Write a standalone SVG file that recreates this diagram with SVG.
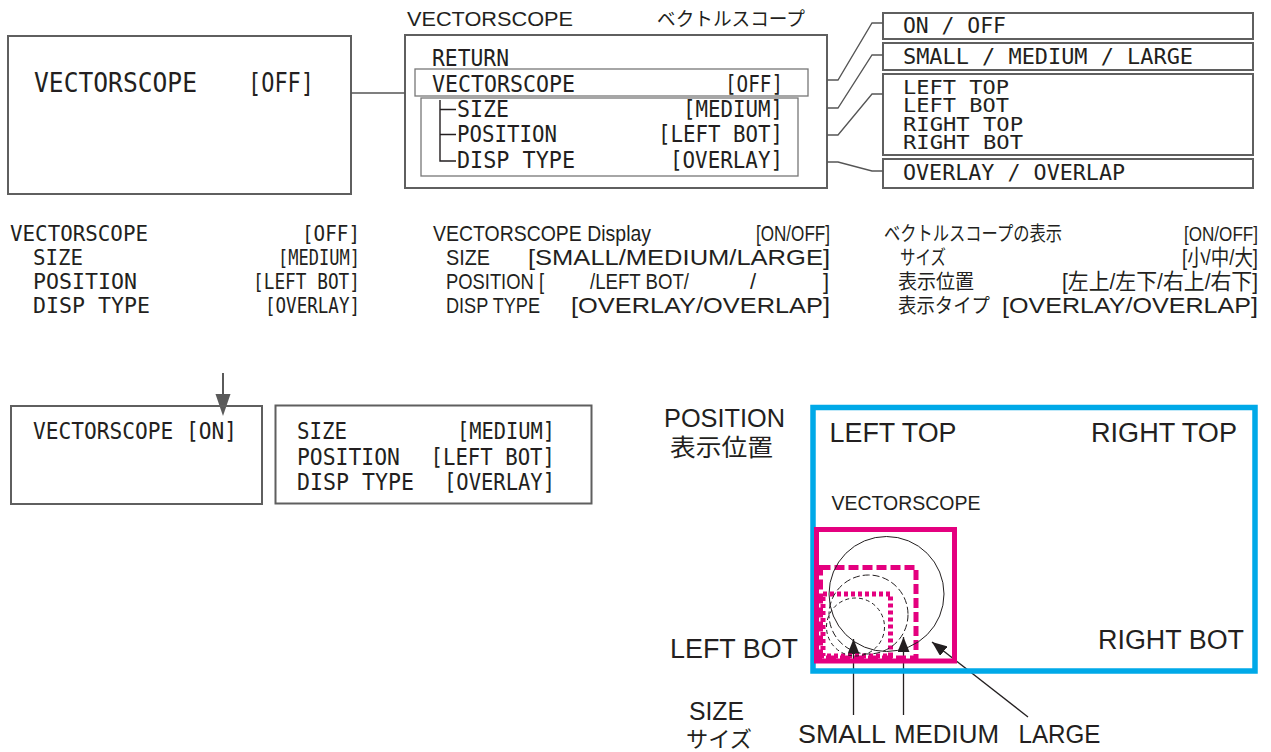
<svg xmlns="http://www.w3.org/2000/svg" width="1271" height="752" viewBox="0 0 1271 752">
<style>
.box{fill:none;stroke:#5f5f5f;stroke-width:2}
.thin{fill:none;stroke:#777;stroke-width:1.3}
.conn{fill:none;stroke:#555;stroke-width:1.3}
.mono{font-family:"DejaVu Sans Mono","Liberation Mono",monospace;fill:#231f20}
.sans{font-family:"Liberation Sans","Noto Sans CJK JP",sans-serif;fill:#231f20}
.jp{font-family:"Noto Sans CJK JP","Liberation Sans",sans-serif;fill:#231f20}
.m26{font-size:26px}.m23{font-size:23px}.m21{font-size:21px}.m20{font-size:19px}.m24{font-size:23px}.m22{font-size:22px}
.s22{font-size:22px}.s27{font-size:27px}.j19{font-size:19px}
.blue{fill:none;stroke:#00a9e8;stroke-width:5.5}
.pink{fill:none;stroke:#e4007f;stroke-width:5}
.circ{fill:none;stroke:#231f20;stroke-width:1}
</style>
<defs>
<marker id="ah" markerUnits="userSpaceOnUse" markerWidth="16" markerHeight="12" refX="15" refY="6" orient="auto">
<path d="M0,0 L15,6 L0,12 Z" fill="#231f20"/>
</marker>
</defs>

<g id="node-left-box">
<rect class="box" x="8" y="36" width="343" height="158"/>
<text class="mono m26" x="34" y="92" textLength="163" lengthAdjust="spacingAndGlyphs">VECTORSCOPE</text>
<text class="mono m26" x="248" y="92" textLength="66" lengthAdjust="spacingAndGlyphs">[OFF]</text>
</g>

<g id="node-menu">
<text class="sans" style="font-size:20px" x="407" y="26" textLength="166" lengthAdjust="spacingAndGlyphs">VECTORSCOPE</text>
<text class="jp j19" x="657" y="26" textLength="148" lengthAdjust="spacingAndGlyphs">ベクトルスコープ</text>
<rect class="box" x="405" y="35" width="422" height="153"/>
<rect class="thin" x="415" y="69" width="393" height="27"/>
<rect class="thin" x="421" y="98" width="377" height="78"/>
<path d="M440,100 V161 H456 M440,109.5 H456 M440,134.5 H456" fill="none" stroke="#231f20" stroke-width="1.4"/>
<text class="mono m23" x="432" y="66" textLength="77" lengthAdjust="spacingAndGlyphs">RETURN</text>
<text class="mono m23" x="432" y="92" textLength="143" lengthAdjust="spacingAndGlyphs">VECTORSCOPE</text>
<text class="mono m23" x="725" y="92" textLength="58" lengthAdjust="spacingAndGlyphs">[OFF]</text>
<text class="mono m23" x="457" y="117" textLength="52" lengthAdjust="spacingAndGlyphs">SIZE</text>
<text class="mono m23" x="683" y="117" textLength="100" lengthAdjust="spacingAndGlyphs">[MEDIUM]</text>
<text class="mono m23" x="457" y="142" textLength="100" lengthAdjust="spacingAndGlyphs">POSITION</text>
<text class="mono m23" x="658" y="142" textLength="125" lengthAdjust="spacingAndGlyphs">[LEFT BOT]</text>
<text class="mono m23" x="457" y="168" textLength="118" lengthAdjust="spacingAndGlyphs">DISP TYPE</text>
<text class="mono m23" x="670" y="168" textLength="113" lengthAdjust="spacingAndGlyphs">[OVERLAY]</text>
</g>

<g id="node-opt-onoff">
<rect class="box" x="883" y="13" width="370" height="26"/>
<text class="mono m21" x="903" y="33" textLength="103" lengthAdjust="spacingAndGlyphs">ON / OFF</text>
</g>
<g id="node-opt-size">
<rect class="box" x="883" y="43" width="370" height="27"/>
<text class="mono m21" x="903" y="64" textLength="290" lengthAdjust="spacingAndGlyphs">SMALL / MEDIUM / LARGE</text>
</g>
<g id="node-opt-position">
<rect class="box" x="883" y="74" width="370" height="81"/>
<text class="mono m20" x="903" y="94" textLength="106" lengthAdjust="spacingAndGlyphs">LEFT TOP</text>
<text class="mono m20" x="903" y="112" textLength="106" lengthAdjust="spacingAndGlyphs">LEFT BOT</text>
<text class="mono m20" x="903" y="131" textLength="120" lengthAdjust="spacingAndGlyphs">RIGHT TOP</text>
<text class="mono m20" x="903" y="149" textLength="120" lengthAdjust="spacingAndGlyphs">RIGHT BOT</text>
</g>
<g id="node-opt-disptype">
<rect class="box" x="883" y="159" width="370" height="29"/>
<text class="mono m21" x="903" y="180" textLength="222" lengthAdjust="spacingAndGlyphs">OVERLAY / OVERLAP</text>
</g>

<g id="connectors">
<line class="conn" x1="351" y1="93" x2="405" y2="93"/>
<polyline class="conn" points="827,80 838,80 872,23 883,23"/>
<polyline class="conn" points="827,108 838,108 872,55 883,55"/>
<polyline class="conn" points="827,135 838,135 872,94 883,94"/>
<polyline class="conn" points="827,162 838,162 872,171 883,171"/>
<line x1="223" y1="373" x2="223" y2="396" stroke="#5a5a5a" stroke-width="2"/>
<polygon points="215.5,394 230.5,394 223,416" fill="#5a5a5a"/>
<line class="conn" style="stroke:#231f20" x1="853.5" y1="715" x2="853.5" y2="639" marker-end="url(#ah)"/>
<line class="conn" style="stroke:#231f20" x1="903.5" y1="715" x2="903.5" y2="637" marker-end="url(#ah)"/>
<line class="conn" style="stroke:#231f20" x1="1028" y1="717" x2="932" y2="642" marker-end="url(#ah)"/>
</g>

<g id="settings-list">
<text class="mono m22" x="10" y="241" textLength="138" lengthAdjust="spacingAndGlyphs">VECTORSCOPE</text>
<text class="mono m22" x="302" y="241" textLength="58" lengthAdjust="spacingAndGlyphs">[OFF]</text>
<text class="mono m22" x="33" y="265" textLength="50" lengthAdjust="spacingAndGlyphs">SIZE</text>
<text class="mono m22" x="278" y="265" textLength="82" lengthAdjust="spacingAndGlyphs">[MEDIUM]</text>
<text class="mono m22" x="33" y="289" textLength="104" lengthAdjust="spacingAndGlyphs">POSITION</text>
<text class="mono m22" x="253" y="289" textLength="107" lengthAdjust="spacingAndGlyphs">[LEFT BOT]</text>
<text class="mono m22" x="33" y="313" textLength="117" lengthAdjust="spacingAndGlyphs">DISP TYPE</text>
<text class="mono m22" x="265" y="313" textLength="95" lengthAdjust="spacingAndGlyphs">[OVERLAY]</text>

<text class="sans s22" x="433" y="241" textLength="218" lengthAdjust="spacingAndGlyphs">VECTORSCOPE Display</text>
<text class="sans s22" x="756" y="241" textLength="74" lengthAdjust="spacingAndGlyphs">[ON/OFF]</text>
<text class="sans s22" x="446" y="265" textLength="44" lengthAdjust="spacingAndGlyphs">SIZE</text>
<text class="sans s22" x="528" y="265" textLength="302" lengthAdjust="spacingAndGlyphs">[SMALL/MEDIUM/LARGE]</text>
<text class="sans s22" x="446" y="289" textLength="98" lengthAdjust="spacingAndGlyphs">POSITION [</text>
<text class="sans s22" x="590" y="289" textLength="99" lengthAdjust="spacingAndGlyphs">/LEFT BOT/</text>
<text class="sans s22" x="750" y="289">/</text>
<text class="sans s22" x="823" y="289">]</text>
<text class="sans s22" x="446" y="313" textLength="94" lengthAdjust="spacingAndGlyphs">DISP TYPE</text>
<text class="sans s22" x="571" y="313" textLength="259" lengthAdjust="spacingAndGlyphs">[OVERLAY/OVERLAP]</text>

<text class="jp" style="font-size:20px" x="884" y="241" textLength="178" lengthAdjust="spacingAndGlyphs">ベクトルスコープの表示</text>
<text class="sans" style="font-size:20px" x="1184" y="241" textLength="74" lengthAdjust="spacingAndGlyphs">[ON/OFF]</text>
<text class="jp" style="font-size:20px" x="900" y="265" textLength="46" lengthAdjust="spacingAndGlyphs">サイズ</text>
<text class="sans s22" x="1182" y="265" textLength="76" lengthAdjust="spacingAndGlyphs">[小/中/大]</text>
<text class="jp" style="font-size:20px" x="898" y="289" textLength="76" lengthAdjust="spacingAndGlyphs">表示位置</text>
<text class="sans s22" x="1062" y="289" textLength="196" lengthAdjust="spacingAndGlyphs">[左上/左下/右上/右下]</text>
<text class="jp" style="font-size:20px" x="898" y="313" textLength="92" lengthAdjust="spacingAndGlyphs">表示タイプ</text>
<text class="sans s22" x="1002" y="313" textLength="256" lengthAdjust="spacingAndGlyphs">[OVERLAY/OVERLAP]</text>
</g>

<g id="node-screen-on">
<rect class="box" x="11" y="406" width="251" height="98"/>
<text class="mono m24" x="33" y="439" textLength="204" lengthAdjust="spacingAndGlyphs">VECTORSCOPE [ON]</text>
</g>

<g id="node-screen-settings">
<rect class="box" x="275.5" y="405.5" width="316" height="98"/>
<text class="mono m24" x="297" y="439" textLength="50" lengthAdjust="spacingAndGlyphs">SIZE</text>
<text class="mono m24" x="457" y="439" textLength="98" lengthAdjust="spacingAndGlyphs">[MEDIUM]</text>
<text class="mono m24" x="297" y="465" textLength="103" lengthAdjust="spacingAndGlyphs">POSITION</text>
<text class="mono m24" x="430.5" y="465" textLength="124.5" lengthAdjust="spacingAndGlyphs">[LEFT BOT]</text>
<text class="mono m24" x="297" y="490" textLength="117" lengthAdjust="spacingAndGlyphs">DISP TYPE</text>
<text class="mono m24" x="444" y="490" textLength="111" lengthAdjust="spacingAndGlyphs">[OVERLAY]</text>
</g>

<g id="position-diagram">
<rect class="blue" x="813" y="407.5" width="442" height="263.5"/>
<rect class="pink" x="816.5" y="529.5" width="138" height="131.5"/>
<rect class="pink" x="820.5" y="567.5" width="95.5" height="90.5" stroke-dasharray="10 4"/>
<rect class="pink" x="823" y="594" width="67.5" height="62" stroke-width="4" stroke-dasharray="4 3"/>
<circle class="circ" cx="886.5" cy="594" r="57.5"/>
<circle class="circ" cx="868.5" cy="614.5" r="39.5" stroke-dasharray="7 3"/>
<circle class="circ" cx="855.5" cy="627" r="29" stroke-dasharray="4 3"/>
<text class="sans" style="font-size:25px" x="664" y="427" textLength="121" lengthAdjust="spacingAndGlyphs">POSITION</text>
<text class="jp" style="font-size:24px" x="670" y="456" textLength="103" lengthAdjust="spacingAndGlyphs">表示位置</text>
<text class="sans s27" x="829.5" y="442" textLength="127" lengthAdjust="spacingAndGlyphs">LEFT TOP</text>
<text class="sans s27" x="1091" y="442" textLength="146" lengthAdjust="spacingAndGlyphs">RIGHT TOP</text>
<text class="sans" style="font-size:21px" x="831.5" y="510" textLength="149" lengthAdjust="spacingAndGlyphs">VECTORSCOPE</text>
<text class="sans s27" x="670" y="658" textLength="128" lengthAdjust="spacingAndGlyphs">LEFT BOT</text>
<text class="sans s27" x="1098" y="649" textLength="146" lengthAdjust="spacingAndGlyphs">RIGHT BOT</text>
<text class="sans" style="font-size:25px" x="689" y="720" textLength="55" lengthAdjust="spacingAndGlyphs">SIZE</text>
<text class="jp" style="font-size:22px" x="686" y="747" textLength="66" lengthAdjust="spacingAndGlyphs">サイズ</text>
<text class="sans" style="font-size:26px" x="798" y="743" textLength="88" lengthAdjust="spacingAndGlyphs">SMALL</text>
<text class="sans" style="font-size:26px" x="894" y="743" textLength="105" lengthAdjust="spacingAndGlyphs">MEDIUM</text>
<text class="sans" style="font-size:26px" x="1018.5" y="743" textLength="82" lengthAdjust="spacingAndGlyphs">LARGE</text>
</g>
</svg>
